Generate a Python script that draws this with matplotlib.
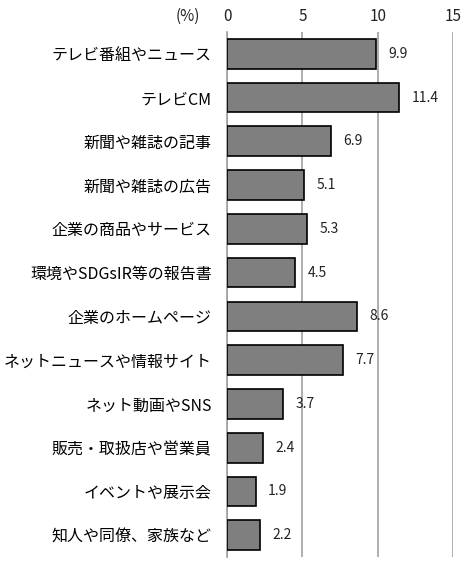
import matplotlib
matplotlib.use('Agg')
import matplotlib.pyplot as plt

plt.rcParams['font.family'] = ['Noto Sans CJK JP', 'DejaVu Sans']

# 項目と値(%)
categories = ['テレビ番組やニュース', 'テレビCM', '新聞や雑誌の記事', '新聞や雑誌の広告',
              '企業の商品やサービス', '環境やSDGsIR等の報告書', '企業のホームページ',
              'ネットニュースや情報サイト', 'ネット動画やSNS', '販売・取扱店や営業員',
              'イベントや展示会', '知人や同僚、家族など']
values = [9.9, 11.4, 6.9, 5.1, 5.3, 4.5, 8.6, 7.7, 3.7, 2.4, 1.9, 2.2]
ticks = [0, 5, 10, 15]

fig = plt.figure(figsize=(4.77, 5.67), dpi=100)
ax = fig.add_axes([0.476, 0.0176, 0.474, 0.926])

y = range(len(categories))
ax.barh(y, values, height=0.68, color='#7f7f7f', edgecolor='black', linewidth=1.2, zorder=3)

for i, v in enumerate(values):
    ax.annotate(f'{v:.1f}', (v, i), xytext=(9, 0), textcoords='offset points',
                va='center', ha='left', fontsize=10, color='#222222')

ax.set_xlim(0, 15)
ax.set_ylim(len(categories) - 0.5, -0.5)
ax.set_xticks(ticks)
ax.xaxis.tick_top()
ax.tick_params(axis='x', length=0, pad=5, labelsize=11, colors='#222222')
ax.tick_params(axis='y', length=0, pad=11, labelsize=11.5)
ax.set_yticks(list(y))
ax.set_yticklabels(categories)
ax.grid(axis='x', color='#a0a0a0', linewidth=1.2, zorder=0)
for s in ['top', 'bottom', 'right']:
    ax.spines[s].set_visible(False)
ax.spines['left'].set_color('#a0a0a0')
ax.spines['left'].set_linewidth(1.2)

fig.text(188 / 477, 1 - 16 / 567, '(%)', ha='center', va='center', fontsize=11, color='#222222')

fig.savefig('out.png', dpi=100)
